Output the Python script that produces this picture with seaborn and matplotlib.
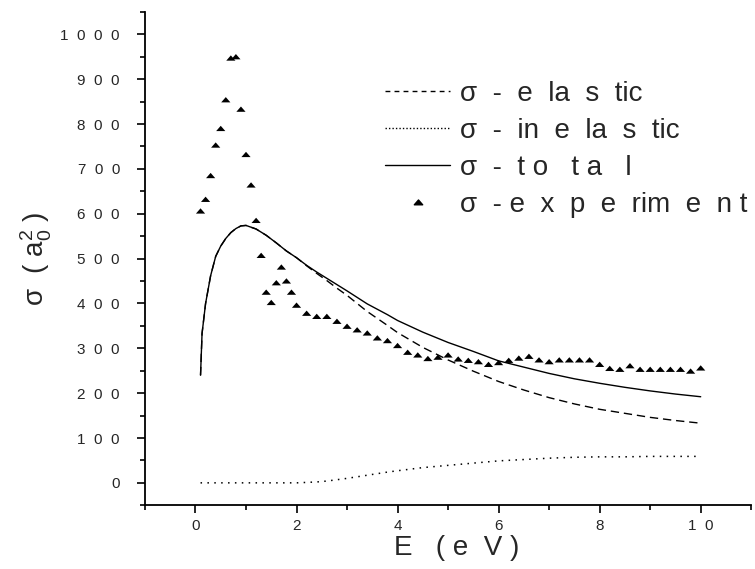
"""Сечение рассеяния: упругое, неупругое, полное и эксперимент."""

import matplotlib
matplotlib.use("Agg")
import matplotlib.pyplot as plt
import matplotlib.ticker as mticker
from matplotlib.lines import Line2D
from matplotlib.path import Path
import pandas as pd
import seaborn as sns

# ── данные ────────────────────────────────────────────────────────
E_THEORY = [0.1, 0.13, 0.2, 0.3, 0.4, 0.5, 0.6, 0.7, 0.8, 0.9, 1.0, 1.2, 1.4, 1.6,
            1.8, 2.0, 2.2, 2.4, 2.6, 2.8, 3.0, 3.4, 3.8, 4.0, 4.5, 5.0, 5.5, 6.0,
            6.5, 7.0, 7.5, 8.0, 8.5, 9.0, 9.5, 10.0]
SIGMA_TOTAL = [240, 333, 400, 462, 505, 528, 545, 558, 567, 573, 574, 566, 552, 535,
               517, 502, 485, 470, 456, 442, 428, 399, 375, 362, 336, 313, 293, 272,
               258, 244, 232, 222, 213, 205, 198, 192]
SIGMA_ELASTIC = [240, 333, 400, 462, 505, 528, 545, 558, 567, 573, 574, 566, 552, 535,
                 517, 502, 484, 467, 451, 434, 418, 382, 351, 335, 302, 274, 249, 226,
                 207, 190, 176, 164, 155, 146, 139, 133]
SIGMA_INELASTIC = [0, 0, 0, 0, 0, 0, 0, 0, 0, 0, 0, 0, 0, 0,
                   0, 0, 1, 2, 4, 7, 10, 17, 24, 27, 34, 39, 44, 49,
                   52, 55, 57, 58, 58, 59, 59, 59]

E_EXP = [0.1, 0.2, 0.3, 0.4, 0.5, 0.6, 0.7, 0.8, 0.9, 1.0, 1.1, 1.2, 1.3, 1.4, 1.5,
         1.6, 1.7, 1.8, 1.9, 2.0, 2.2, 2.4, 2.6, 2.8, 3.0, 3.2, 3.4, 3.6, 3.8, 4.0,
         4.2, 4.4, 4.6, 4.8, 5.0, 5.2, 5.4, 5.6, 5.8, 6.0, 6.2, 6.4, 6.6, 6.8, 7.0,
         7.2, 7.4, 7.6, 7.8, 8.0, 8.2, 8.4, 8.6, 8.8, 9.0, 9.2, 9.4, 9.6, 9.8, 10.0]
SIGMA_EXP = [606, 632, 685, 753, 790, 854, 947, 950, 833, 732, 664, 585, 507, 425, 402,
             446, 481, 450, 425, 396, 378, 371, 371, 360, 349, 341, 334, 323, 317, 306,
             291, 285, 277, 280, 285, 276, 273, 270, 264, 268, 273, 278, 282, 274, 270,
             274, 274, 274, 274, 264, 255, 253, 261, 253, 253, 253, 253, 253, 249, 256]

X_TICKS = [0, 2, 4, 6, 8, 10]
X_TICK_LABELS = ["0", "2", "4", "6", "8", "1  0"]
Y_TICKS = [0, 100, 200, 300, 400, 500, 600, 700, 800, 900, 1000]
Y_TICK_LABELS = ["0", "1  0  0", "2  0  0", "3  0  0", "4  0  0", "5  0  0",
                 "6  0  0", "7  0  0", "8  0  0", "9  0  0", "1  0  0  0"]
LEGEND_LABELS = ["σ  -  e  la  s  tic", "σ  -  in  e  la  s  tic", "σ  -  t o   t a   l",
                 "σ  - e  x  p  e  rim  e  n t"]

sns.set_style("ticks")
plt.rcParams.update({
    "font.family": ["Liberation Sans", "DejaVu Sans"],
    "mathtext.fontset": "custom",
    "mathtext.rm": "Liberation Sans",
    "mathtext.it": "Liberation Sans",
})

# плоский треугольник, как в исходнике
TRI = Path([(-1.0, -0.55), (1.0, -0.55), (0.0, 0.6), (-1.0, -0.55)],
           [Path.MOVETO, Path.LINETO, Path.LINETO, Path.CLOSEPOLY])

theory = pd.DataFrame({
    "E": E_THEORY,
    "total": SIGMA_TOTAL,
    "elastic": SIGMA_ELASTIC,
    "inelastic": SIGMA_INELASTIC,
})
exp = pd.DataFrame({"E": E_EXP, "sigma": SIGMA_EXP})

fig = plt.figure(figsize=(7.55, 5.69), dpi=100)
ax = fig.add_axes([0.192, 0.112, 0.803, 0.867])

sns.lineplot(data=theory, x="E", y="total", ax=ax, color="black", lw=1.0)
sns.lineplot(data=theory, x="E", y="elastic", ax=ax, color="black", lw=1.0,
             linestyle=(0, (6, 3.5)))
sns.lineplot(data=theory, x="E", y="inelastic", ax=ax, color="black", lw=1.1,
             linestyle=(0, (1, 3.5)))
sns.scatterplot(data=exp, x="E", y="sigma", ax=ax, marker=TRI, s=44,
                color="black", edgecolor="none", linewidth=0)

ax.set_xlim(-1, 11)
ax.set_ylim(-50, 1050)
ax.xaxis.set_major_locator(mticker.FixedLocator(X_TICKS))
ax.set_xticklabels(X_TICK_LABELS)
ax.xaxis.set_minor_locator(mticker.FixedLocator([-1, 1, 3, 5, 7, 9, 11]))
ax.yaxis.set_major_locator(mticker.FixedLocator(Y_TICKS))
ax.set_yticklabels(Y_TICK_LABELS)
ax.yaxis.set_minor_locator(mticker.MultipleLocator(50))

ax.tick_params(which="major", direction="out", length=6, width=1.2,
               labelsize=11, color="black")
ax.tick_params(axis="y", which="major", pad=12)
ax.tick_params(axis="x", which="major", pad=4)
ax.tick_params(which="minor", direction="out", length=3.5, width=1.2, color="black")
for side in ("top", "right"):
    ax.spines[side].set_visible(False)
for side in ("left", "bottom"):
    ax.spines[side].set_linewidth(1.3)
    ax.spines[side].set_color("black")

ax.set_xlabel("E   ( e  V )", fontsize=20, labelpad=1, x=0.515)
ax.set_ylabel("σ  ( a$_0^2$ )", fontsize=20, labelpad=5)

handles = [
    Line2D([], [], color="black", lw=1.0, linestyle=(0, (3.5, 3))),
    Line2D([], [], color="black", lw=1.0, linestyle=(0, (1, 1.5))),
    Line2D([], [], color="black", lw=1.0),
    Line2D([], [], color="black", marker=TRI, markersize=6, linestyle="none"),
]
ax.legend(handles, LEGEND_LABELS, loc="upper left", bbox_to_anchor=(0.51, 0.858),
          bbox_transform=fig.transFigure, frameon=False, fontsize=20,
          handlelength=2.35, handletextpad=0.35, labelspacing=0.4,
          borderpad=0, borderaxespad=0)

fig.savefig("out.png", dpi=100)
plt.close(fig)
